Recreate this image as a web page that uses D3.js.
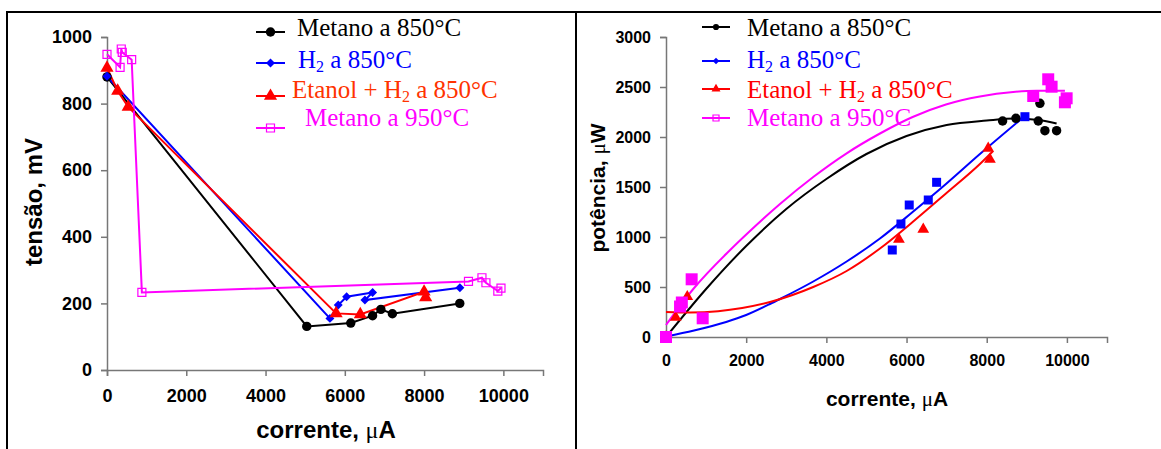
<!DOCTYPE html>
<html>
<head>
<meta charset="utf-8">
<script src="https://cdn.jsdelivr.net/npm/d3@7"></script>
<style>
  body { margin: 0; background: #fff; }
  svg { display: block; }
</style>
</head>
<body>
<div id="chart"></div>
<script>
// tick values
var xTicks = [0, 2000, 4000, 6000, 8000, 10000];
var tensaoTicks = [0, 200, 400, 600, 800, 1000];
var potenciaTicks = [0, 500, 1000, 1500, 2000, 2500, 3000];

// legend labels
var seriesNames = ["Metano a 850°C", "H2 a 850°C", "Etanol + H2 a 850°C", "Metano a 950°C"];

// left chart: corrente (uA) vs tensão (mV)
var tensaoMetano850 = [[0, 880], [5040, 131], [6150, 141], [6700, 163], [6910, 182], [7200, 169], [8900, 200]];
var tensaoH2 = [[0, 882], [5624, 155], [5834, 195], [6045, 220], [6701, 233], [6507, 210], [8903, 247]];
var tensaoEtanol = [[0, 907], [270, 838], [535, 790], [5780, 170], [6390, 167], [8000, 235], [8040, 218]];
var tensaoMetano950 = [[0, 948], [330, 909], [360, 964], [385, 954], [622, 932], [880, 233], [9120, 266], [9460, 277], [9560, 262], [9860, 237], [9940, 246]];

// right chart: corrente (uA) vs potência (uW), measured points
var potMetano850 = [[0, 0], [8396, 2160], [8728, 2187], [9327, 2337], [9285, 2160], [9451, 2063], [9743, 2063]];
var potH2 = [[0, 0], [5644, 870], [5860, 1130], [6067, 1320], [6542, 1370], [6750, 1547], [8953, 2203]];
var potEtanol = [[0, 0], [242, 197], [531, 403], [5810, 977], [6417, 1077], [8037, 1887], [8080, 1777]];
var potMetano950 = [[0, 0], [350, 305], [395, 345], [640, 577], [915, 187], [9160, 2410], [9534, 2577], [9618, 2503], [9993, 2387], [9950, 2347]];

// right chart: trend lines
var fitMetano850 = [[0, 0], [1000, 480], [2000, 910], [3000, 1280], [4000, 1580], [5000, 1830], [6000, 2010], [7000, 2120], [8000, 2165], [8700, 2185], [9300, 2170], [9743, 2135]];
var fitH2 = [[0, 5], [700, 65], [1500, 150], [2000, 220], [2594, 330], [2843, 380], [3673, 555], [4506, 755], [5337, 985], [6152, 1250], [6983, 1530], [7830, 1830], [8920, 2200]];
var fitEtanol = [[0, 250], [600, 245], [1300, 258], [1900, 290], [2594, 350], [3673, 500], [4506, 660], [5337, 885], [6152, 1150], [6983, 1435], [7830, 1730], [8160, 1860]];
var fitMetano950 = [[0, 120], [680, 480], [1600, 870], [2095, 1060], [2843, 1330], [3673, 1600], [4506, 1837], [5337, 2035], [6152, 2200], [6983, 2325], [7830, 2405], [8661, 2450], [9244, 2462], [9950, 2462]];

var colors = ["#000000", "#0000ff", "#ff0000", "#ff00ff"];
var legendColorsLeft = ["#000000", "#0000ff", "#ff3300", "#ff00ff"];

var svg = d3.select("#chart")
  .append("svg")
    .attr("width", 1161)
    .attr("height", 449);

// outer frame
svg.append("path")
  .attr("d", "M7,449 V12 H1161 M576,12 V449")
  .attr("fill", "none")
  .attr("stroke", "#000")
  .attr("stroke-width", 2);

var tickFont = "'Liberation Sans', Arial, sans-serif";
var serifFont = "'Liberation Serif', 'Times New Roman', serif";

function styleAxis(g, size) {
  g.select(".domain").attr("stroke", "#777").attr("stroke-width", 1.5);
  g.selectAll(".tick line").attr("stroke", "#777").attr("stroke-width", 1.5);
  g.selectAll(".tick text")
    .attr("fill", "#000")
    .style("font-family", tickFont)
    .style("font-weight", "bold")
    .style("font-size", size + "px");
}

// marker drawing
function marker(sel, kind, size, color) {
  if (kind == "circle") {
    sel.append("path").attr("d", d3.symbol(d3.symbolCircle, size)).attr("fill", color);
  } else if (kind == "diamond") {
    sel.append("path").attr("d", d3.symbol(d3.symbolSquare, size)).attr("transform", "rotate(45)").attr("fill", color);
  } else if (kind == "triangle") {
    sel.append("path").attr("d", d3.symbol(d3.symbolTriangle, size)).attr("fill", color);
  } else if (kind == "square") {
    sel.append("path").attr("d", d3.symbol(d3.symbolSquare, size)).attr("fill", color);
  } else if (kind == "opensquare") {
    sel.append("path").attr("d", d3.symbol(d3.symbolSquare, size))
      .attr("fill", "none").attr("stroke", color).attr("stroke-width", 1.2);
  }
}

// axis label, the mu is drawn in a serif face
function axisLabel(g, x, y, rotate, before, after, size) {
  var t = g.append("text")
    .attr("transform", "translate(" + x + "," + y + ")" + (rotate ? " rotate(-90)" : ""))
    .attr("text-anchor", "middle")
    .style("font-family", tickFont)
    .style("font-weight", "bold")
    .style("font-size", size + "px");
  t.append("tspan").text(before);
  if (after != null) {
    t.append("tspan").text("μ").style("font-family", serifFont).style("font-weight", "normal");
    t.append("tspan").text(after);
  }
}

// legend rows
function legend(g, x0, x1, lineYs, textX, textYs, colorsText, kinds, sizes, fontSize) {
  seriesNames.forEach(function(name, i) {
    g.append("line")
      .attr("x1", x0).attr("x2", x1)
      .attr("y1", lineYs[i]).attr("y2", lineYs[i])
      .attr("stroke", colors[i]).attr("stroke-width", 2);
    var m = g.append("g").attr("transform", "translate(" + ((x0 + x1) / 2) + "," + lineYs[i] + ")");
    marker(m, kinds[i], sizes[i], colors[i]);
    var t = g.append("text")
      .attr("x", textX[i]).attr("y", textYs[i])
      .attr("fill", colorsText[i])
      .style("font-family", serifFont)
      .style("font-size", fontSize + "px");
    var parts = name.split("H2");
    if (parts.length == 1) {
      t.text(name);
    } else {
      t.append("tspan").text(parts[0] + "H");
      t.append("tspan").text("2").attr("dy", 4).style("font-size", (fontSize * 0.64) + "px");
      t.append("tspan").text(parts[1]).attr("dy", -4);
    }
  });
}

// ---------------- left chart ----------------
var xL = d3.scaleLinear().domain([0, 11000]).range([107, 543]);
var yL = d3.scaleLinear().domain([0, 1000]).range([370, 37]);

var left = svg.append("g");

left.append("g")
  .attr("transform", "translate(0," + yL(0) + ")")
  .call(d3.axisBottom(xL).tickValues(xTicks).tickSizeOuter(0).tickSize(6).tickPadding(13).tickFormat(d3.format("d")))
  .call(styleAxis, 18);

left.append("g")
  .attr("transform", "translate(" + xL(0) + ",0)")
  .call(d3.axisLeft(yL).tickValues(tensaoTicks).tickSizeOuter(0).tickSize(6).tickPadding(9).tickFormat(d3.format("d")))
  .call(styleAxis, 18);

axisLabel(left, 42, 202, true, "tensão, mV", null, 24);
axisLabel(left, 326, 438, false, "corrente, ", "A", 24);

var lineL = d3.line().x(function(d) { return xL(d[0]); }).y(function(d) { return yL(d[1]); });

var leftSeries = [tensaoMetano850, tensaoH2, tensaoEtanol, tensaoMetano950];
var leftKinds = ["circle", "diamond", "triangle", "opensquare"];
var leftSizes = [70, 40, 75, 64];

leftSeries.forEach(function(data, i) {
  left.append("path")
    .datum(data)
    .attr("d", lineL)
    .attr("fill", "none")
    .attr("stroke", colors[i])
    .attr("stroke-width", 2);
});
leftSeries.forEach(function(data, i) {
  left.selectAll("g.m" + i)
    .data(data)
    .enter()
    .append("g")
      .attr("class", "m" + i)
      .attr("transform", function(d) { return "translate(" + xL(d[0]) + "," + yL(d[1]) + ")"; })
      .each(function() { marker(d3.select(this), leftKinds[i], leftSizes[i], colors[i]); });
});

legend(left, 256, 285, [32, 63, 96, 128], [297, 298, 292, 305], [36, 68, 98, 126],
  legendColorsLeft, leftKinds, [70, 40, 75, 64], 25);

// ---------------- right chart ----------------
var xR = d3.scaleLinear().domain([0, 11000]).range([666, 1107]);
var yR = d3.scaleLinear().domain([0, 3000]).range([337, 37]);

var right = svg.append("g");

right.append("g")
  .attr("transform", "translate(0," + yR(0) + ")")
  .call(d3.axisBottom(xR).tickValues(xTicks).tickSizeOuter(0).tickSize(6).tickPadding(12).tickFormat(d3.format("d")))
  .call(styleAxis, 16);

right.append("g")
  .attr("transform", "translate(" + xR(0) + ",0)")
  .call(d3.axisLeft(yR).tickValues(potenciaTicks).tickSizeOuter(0).tickSize(6).tickPadding(9).tickFormat(d3.format("d")))
  .call(styleAxis, 16);

axisLabel(right, 605, 188, true, "potência, ", "W", 21);
axisLabel(right, 887, 406, false, "corrente, ", "A", 21);

var lineR = d3.line()
  .curve(d3.curveMonotoneX)
  .x(function(d) { return xR(d[0]); })
  .y(function(d) { return yR(d[1]); });

var fits = [fitMetano850, fitH2, fitEtanol, fitMetano950];
fits.forEach(function(data, i) {
  right.append("path")
    .datum(data)
    .attr("d", lineR)
    .attr("fill", "none")
    .attr("stroke", colors[i])
    .attr("stroke-width", 2);
});

var rightSeries = [potMetano850, potH2, potEtanol, potMetano950];
var rightKinds = ["circle", "square", "triangle", "square"];
var rightSizes = [70, 81, 60, 144];

rightSeries.forEach(function(data, i) {
  right.selectAll("g.m" + i)
    .data(data)
    .enter()
    .append("g")
      .attr("class", "m" + i)
      .attr("transform", function(d) { return "translate(" + xR(d[0]) + "," + yR(d[1]) + ")"; })
      .each(function() { marker(d3.select(this), rightKinds[i], rightSizes[i], colors[i]); });
});

legend(right, 702, 730, [27, 61, 89, 118], [747, 747, 747, 747], [36, 68, 98, 126],
  colors, ["circle", "diamond", "triangle", "opensquare"], [30, 22, 35, 36], 25);
</script>
</body>
</html>
